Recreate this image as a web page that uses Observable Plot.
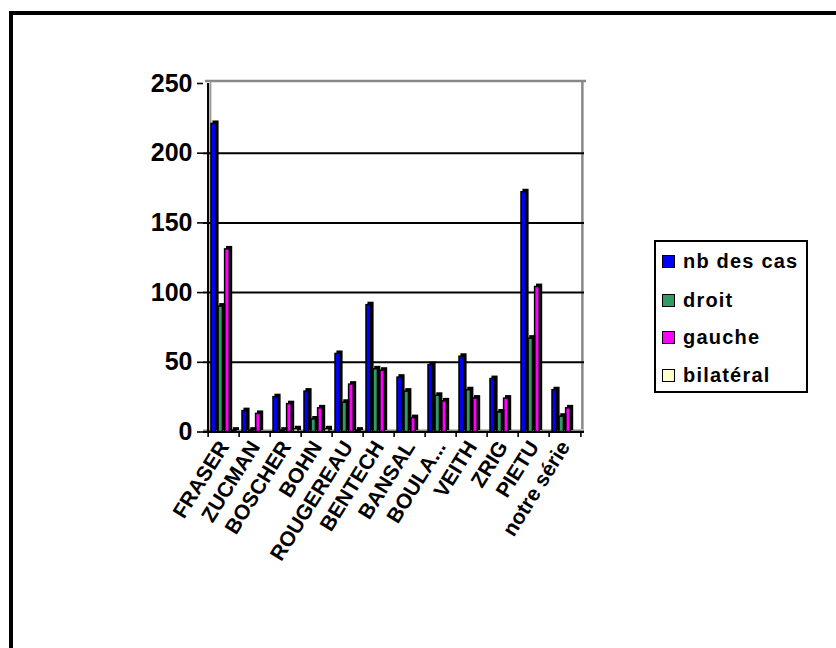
<!DOCTYPE html>
<html>
<head>
<meta charset="utf-8">
<script src="https://cdn.jsdelivr.net/npm/d3@7"></script>
<script src="https://cdn.jsdelivr.net/npm/@observablehq/plot@0.6"></script>
<style>
  html, body { margin: 0; padding: 0; background: #fff; }
  body { width: 836px; height: 648px; position: relative; overflow: hidden; font-family: "Liberation Sans", Arial, sans-serif; }
  #chart { position: absolute; left: 0; top: 0; }
  #chart svg text { font-weight: bold; font-family: "Liberation Sans", Arial, sans-serif; fill: #000; }
  #frame { position: absolute; left: 9px; top: 11px; width: 900px; height: 700px; border-left: 4px solid #000; border-top: 4px solid #000; box-sizing: border-box; }
  #legend { position: absolute; left: 654px; top: 240px; width: 154px; height: 153px; border: 2px solid #000; box-sizing: border-box; background: #fff; }
  .item { position: absolute; left: 6px; height: 24px; display: flex; align-items: center; font-weight: bold; font-size: 20px; letter-spacing: 1.2px; color: #000; white-space: nowrap; }
  .sw { width: 11px; height: 11px; border: 1.5px solid #000; margin-right: 8px; flex: none; }
</style>
</head>
<body>
<div id="frame"></div>
<div id="chart"></div>
<div id="legend"></div>
<script>
const categories = ["FRASER","ZUCMAN","BOSCHER","BOHN","ROUGEREAU","BENTECH","BANSAL","BOULA...","VEITH","ZRIG","PIETU","notre série"];
const seriesNames = ["nb des cas","droit","gauche","bilatéral"];
const seriesColors = ["#0000FF","#339966","#FF00FF","#FFFFCC"];
const nbDesCas = [221, 15, 25, 29, 56, 91, 39, 48, 54, 38, 172, 30];
const droit    = [90, 1, 1, 9, 21, 45, 29, 26, 30, 14, 67, 11];
const gauche   = [131, 13, 20, 17, 34, 44, 10, 22, 24, 24, 104, 17];
const bilateral= [1, 0, 2, 2, 1, 0, 0, 0, 0, 0, 0, 0];
const yTicks = [0, 50, 100, 150, 200, 250];

const allSeries = [nbDesCas, droit, gauche, bilateral];

const W = 836, H = 648;
const mL = 203, mR = 252, mT = 83, mB = 216.5;
const bw = (W - mL - mR) / categories.length;
const off0 = 3.0, step = 6.8, faceW = 5.4, depth = 2.2;

const barMarks = [];
for (let i = allSeries.length - 1; i >= 0; i--) {
  const data = categories.map((c, j) => ({c, v: allSeries[i][j]}));
  const L = off0 + i * step;
  const R = bw - (L + faceW);
  barMarks.push(Plot.barY(data, {x: "c", y: "v", fill: "#000", stroke: "#000", strokeWidth: 1.5, insetLeft: L, insetRight: R, dx: depth, dy: -depth}));
  barMarks.push(Plot.barY(data, {x: "c", y: "v", fill: seriesColors[i], stroke: "#000", strokeWidth: 1.5, insetLeft: L, insetRight: R}));
}

const last = categories[categories.length - 1];

const chart = Plot.plot({
  width: W, height: H,
  marginLeft: mL, marginRight: mR, marginTop: mT, marginBottom: mB,
  style: {background: "transparent", fontFamily: "Liberation Sans, Arial, sans-serif"},
  x: {type: "band", domain: categories, paddingInner: 0, paddingOuter: 0, label: null},
  y: {domain: [0, 250], label: null},
  marks: [
    // back wall
    Plot.ruleY([250], {stroke: "#888", strokeWidth: 2.5, dy: -2.5, dx: 2}),
    Plot.ruleX([last], {x: d => d, y1: 0, y2: 250, dx: bw / 2 + 1.5, dy: -2.5, stroke: "#888", strokeWidth: 2.5}),
    Plot.ruleX([categories[0]], {x: d => d, y1: 0, y2: 250, dx: -bw / 2 + 2.5, dy: -2, stroke: "#999", strokeWidth: 1.5}),
    // grid
    Plot.ruleY([50, 100, 150, 200], {stroke: "#000", strokeWidth: 2}),
    Plot.ruleY([0], {stroke: "#888", strokeWidth: 2, dy: -1.5}),
    ...barMarks,
    // axes lines
    Plot.ruleY([0], {stroke: "#000", strokeWidth: 1.8}),
    Plot.ruleX([categories[0]], {x: d => d, y1: 0, y2: 250, dx: -bw / 2, stroke: "#000", strokeWidth: 2.2}),
    Plot.ruleX(categories, {x: d => d, y1: 0, y2: -4, dx: -bw / 2, stroke: "#000", strokeWidth: 1.6}),
    Plot.ruleX([last], {x: d => d, y1: 0, y2: -4, dx: bw / 2, stroke: "#000", strokeWidth: 1.6}),
    Plot.axisY({ticks: yTicks, tickSize: 6, tickPadding: 5, fontSize: 25, stroke: "#000", strokeWidth: 1.6, tickFormat: d => String(d)}),
    Plot.axisX({tickSize: 0, tickRotate: -58, tickPadding: 11, fontSize: 21})
  ]
});
document.getElementById("chart").appendChild(chart);

const legend = document.getElementById("legend");
const rowCenters = [21.7, 60, 97.7, 135.7];
seriesNames.forEach((name, i) => {
  const item = document.createElement("div");
  item.className = "item";
  item.style.top = (rowCenters[i] - 2 - 12) + "px";
  const sw = document.createElement("span");
  sw.className = "sw";
  sw.style.background = seriesColors[i];
  const t = document.createElement("span");
  t.textContent = name;
  item.appendChild(sw);
  item.appendChild(t);
  legend.appendChild(item);
});
</script>
</body>
</html>
